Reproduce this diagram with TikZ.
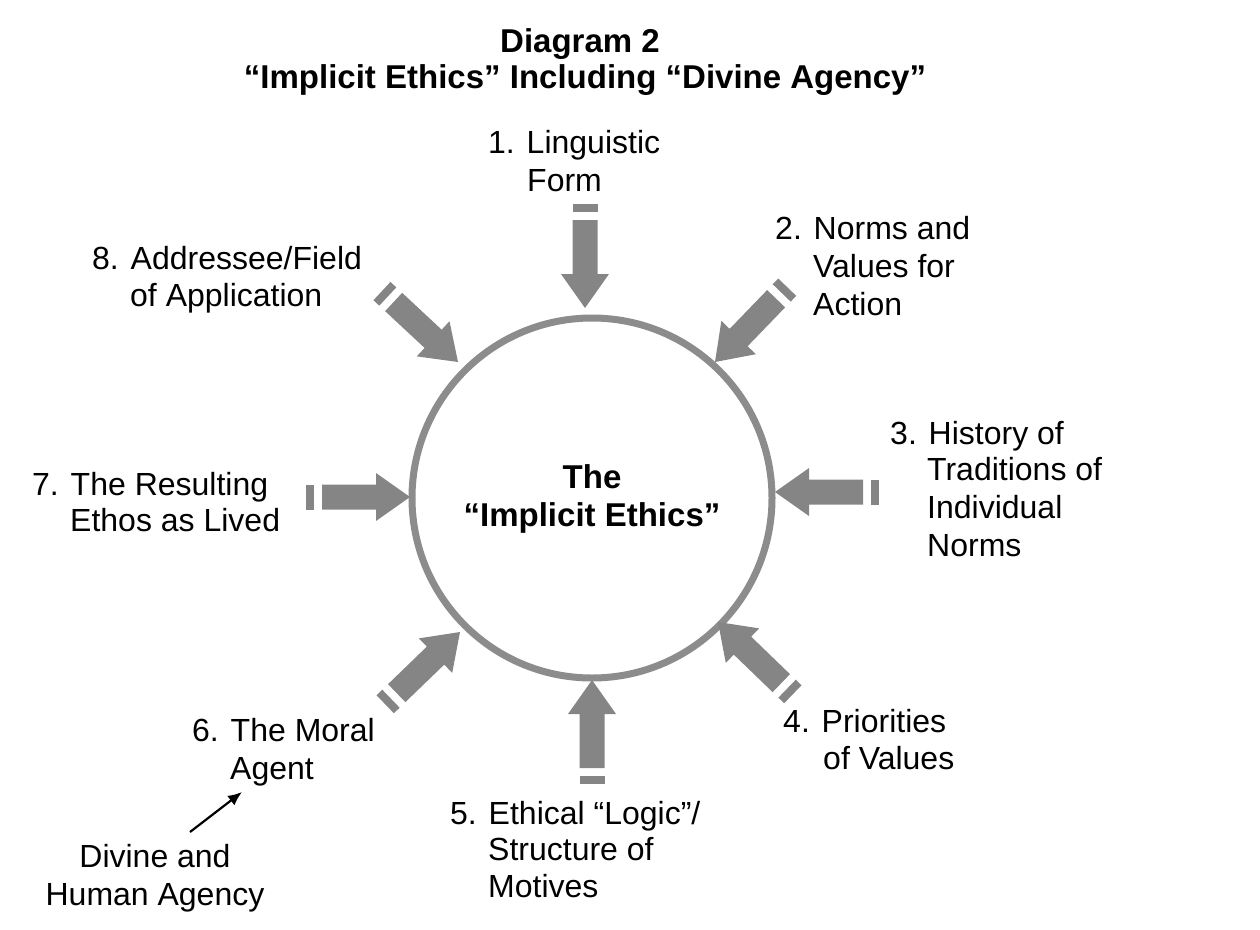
\documentclass[tikz,border=0pt]{standalone}
\usepackage{fontspec}
\setmainfont{Liberation Sans}
\usetikzlibrary{arrows.meta}
\begin{document}
\begin{tikzpicture}[x=1pt,y=-1pt,
  lbl/.style={anchor=base west,inner sep=0pt,yshift=-10pt,font=\fontsize{32}{36}\selectfont},
  ttl/.style={anchor=base,inner sep=0pt,yshift=-10pt,font=\fontsize{33}{38}\selectfont\bfseries},
  gr/.style={fill=black!48,draw=none}]
\useasboundingbox (0,0) rectangle (1260,929);
\node[circle,draw=black!45,line width=7pt,minimum size=360pt,inner sep=0pt] (c) at (592,498) {};
\node[ttl] (t1) at (580,42) {Diagram 2};
\node[ttl] (t2) at (585,78) {“Implicit Ethics” Including “Divine Agency”};
\node[ttl] (m1) at (592,478) {The};
\node[ttl] (m2) at (592,516) {“Implicit Ethics”};
% arrows: tip x, tip y, angle of direction
\foreach \tx/\ty/\a in {585/308/-90, 715/362/-134, 775/492/180, 718/622/136, 592/680/90, 460/632/44, 410/497/0, 458/362/-43}{
  \begin{scope}[shift={(\tx,\ty)},rotate=\a]
    \fill[gr] (-104,-12.5) rectangle (-96,12.5);
    \fill[gr] (-88,-12.5) -- (-34,-12.5) -- (-34,-24) -- (0,0) -- (-34,24) -- (-34,12.5) -- (-88,12.5) -- cycle;
  \end{scope}
}
\node[lbl] (l1a) at (488,143) {1. Linguistic};
\node[lbl] (l1b) at (527,181) {Form};
\node[lbl] (l2a) at (775,229) {2. Norms and};
\node[lbl] (l2b) at (813,267) {Values for};
\node[lbl] (l2c) at (813,305) {Action};
\node[lbl] (l3a) at (890,434) {3. History of};
\node[lbl] (l3b) at (927,470) {Traditions of};
\node[lbl] (l3c) at (927,508) {Individual};
\node[lbl] (l3d) at (927,546) {Norms};
\node[lbl] (l4a) at (783,722) {4. Priorities};
\node[lbl] (l4b) at (823,759) {of Values};
\node[lbl] (l5a) at (450,814) {5. Ethical “Logic”/};
\node[lbl] (l5b) at (488,850) {Structure of};
\node[lbl] (l5c) at (488,887) {Motives};
\node[lbl] (l6a) at (192,731) {6. The Moral};
\node[lbl] (l6b) at (230,769) {Agent};
\node[lbl,anchor=base] (d1) at (155,857) {Divine and};
\node[lbl,anchor=base] (d2) at (155,895) {Human Agency};
\node[lbl] (l7a) at (32,485) {7. The Resulting};
\node[lbl] (l7b) at (70,521) {Ethos as Lived};
\node[lbl] (l8a) at (92,259) {8. Addressee/Field};
\node[lbl] (l8b) at (130,296) {of Application};
\coordinate (ds) at (190,832);
\coordinate (de) at (242,792);
\draw[line width=2.2pt,-{Latex[length=14pt,width=12pt]}] (ds) -- (de);
\end{tikzpicture}
\end{document}
